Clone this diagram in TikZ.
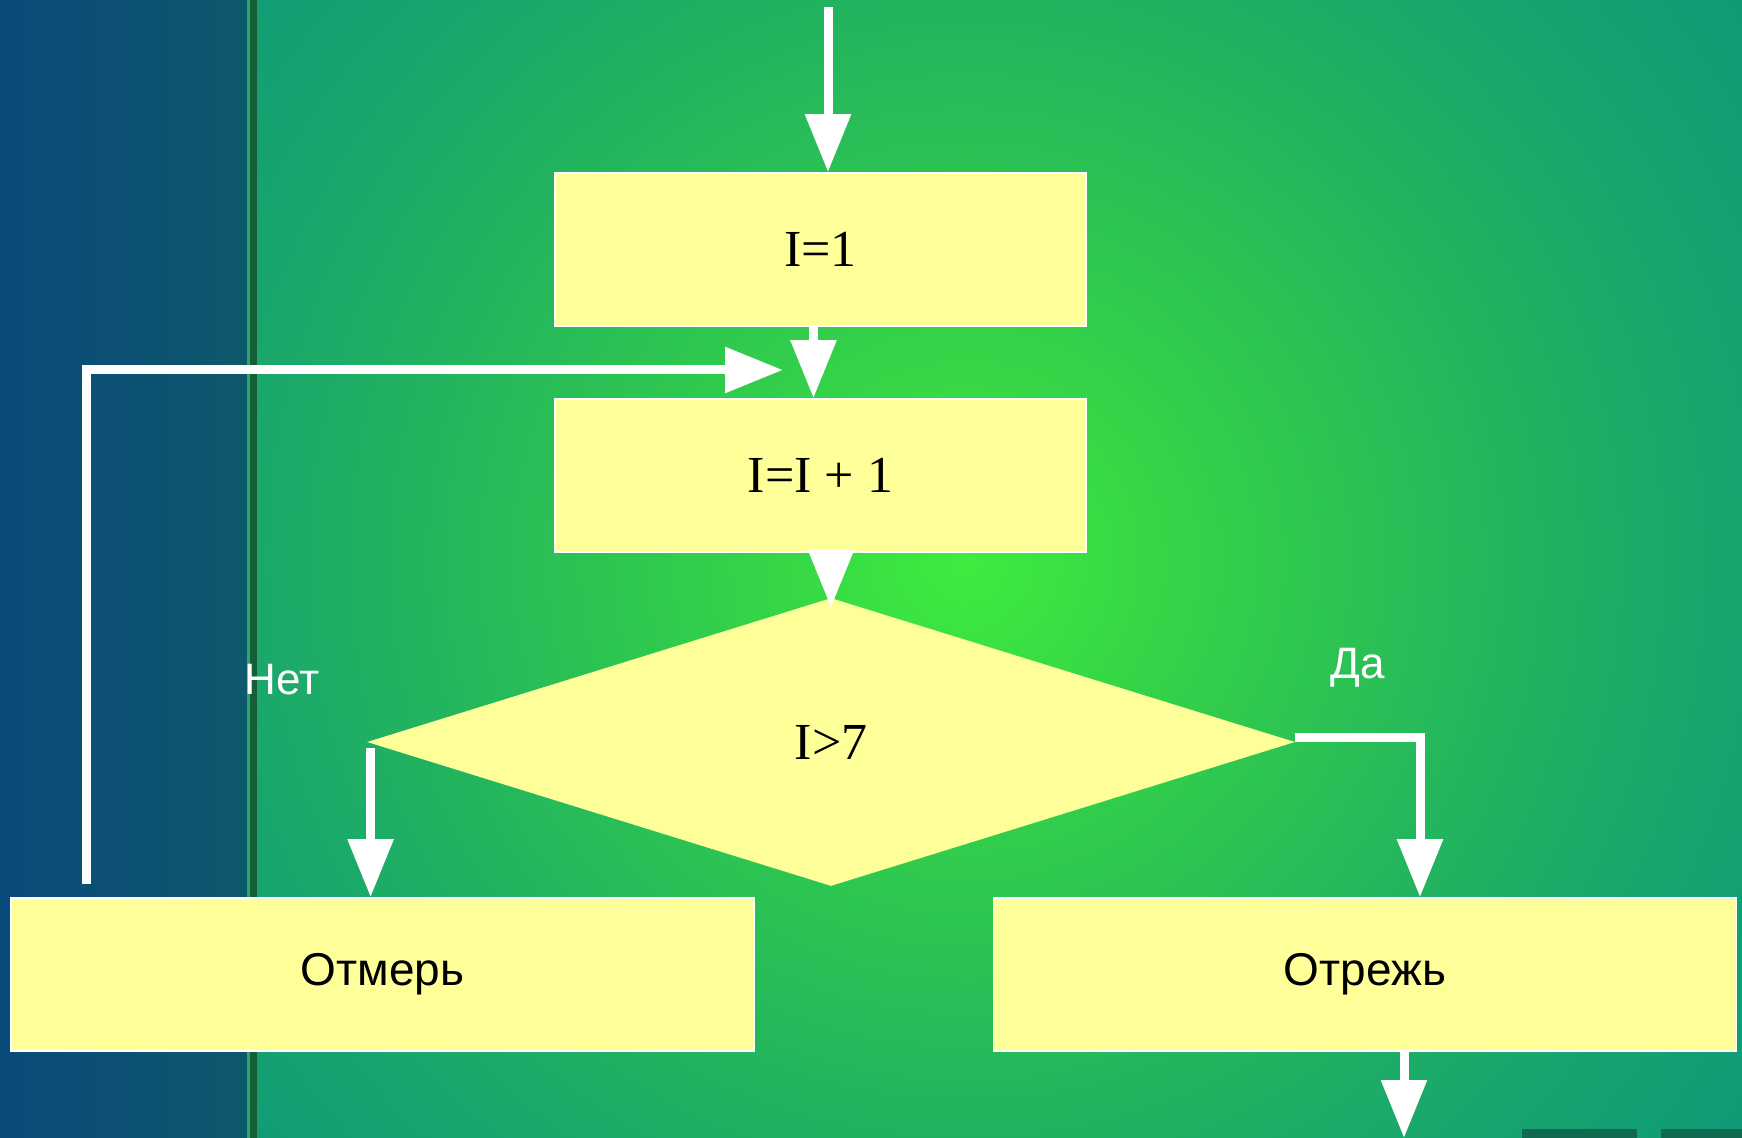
\documentclass[tikz,border=0pt]{standalone}
\usepackage{fontspec}
\setmainfont{Liberation Serif}
\newfontfamily\cyrsans{Liberation Sans}
\usetikzlibrary{arrows.meta,shapes.geometric,positioning}

\definecolor{boxyellow}{HTML}{FFFF99}
\definecolor{glowa}{RGB}{62,236,62}
\definecolor{glowb}{RGB}{51,207,74}
\definecolor{glowc}{RGB}{34,179,95}
\definecolor{glowd}{RGB}{25,166,109}
\definecolor{glowe}{RGB}{17,154,118}
\definecolor{glowk}{RGB}{16,150,120}
\definecolor{stripblue}{RGB}{10,74,122}
\definecolor{stripblueb}{RGB}{14,88,108}
\definecolor{stripline}{RGB}{40,170,110}
\definecolor{stripdark}{RGB}{21,94,56}
\definecolor{footdark}{RGB}{15,106,80}
\pgfdeclareradialshading{greenglow}{\pgfpoint{0bp}{0bp}}{%
  color(0bp)=(glowa); color(125bp)=(glowb); color(280bp)=(glowc);
  color(370bp)=(glowd); color(472bp)=(glowe); color(500bp)=(glowk)}

\begin{document}
\begin{tikzpicture}[x=0.5pt,y=-0.5pt,
  flowbox/.style={draw=white,line width=0.8pt,fill=boxyellow,inner sep=0pt,
    minimum width=265.5pt,minimum height=76.5pt},
  wide/.style={flowbox,minimum width=371.5pt},
  flowline/.style={white,line width=4.5pt,
    -{Triangle[length=29pt,width=22pt]}},
  mathtext/.style={font=\fontsize{26}{30}\selectfont},
  sanstext/.style={font=\cyrsans\fontsize{23}{27}\selectfont},
  branch/.style={text=white,font=\cyrsans\fontsize{22}{26}\selectfont}]

\useasboundingbox (0,0) rectangle (1742,1138);
\shade[left color=stripblue,right color=stripblueb] (0,0) rectangle (247,1138);
\fill[stripline] (247,0) rectangle (250,1138);
\fill[stripdark] (250,0) rectangle (257,1138);
\begin{scope}
  \clip (257,0) rectangle (1742,1138);
  \fill[glowk] (257,0) rectangle (1742,1138);
  \node[inner sep=0pt] (glow) at (965,560) {\pgfuseshading{greenglow}};
\end{scope}
\fill[footdark] (1522,1129) rectangle (1637,1138);
\fill[footdark] (1661,1129) rectangle (1742,1138);

\node[flowbox,mathtext] (init) at (820.5,249.5) {I=1};
\node[flowbox,mathtext] (incr) at (820.5,475.5) {I=I + 1};
\node[draw=none,fill=boxyellow,shape=diamond,inner sep=0pt,
  minimum width=464pt,minimum height=144pt,mathtext] (cond) at (831,742) {I>7};
\node[wide,sanstext] (measure) at (382.5,974.5) {Отмерь};
\node[wide,sanstext] (cut) at (1365,974.5) {Отрежь};

\node[branch] (no) at (282,680) {Нет};
\node[branch] (yes) at (1358,668) {Да};

\coordinate (entry) at (828,7);
\coordinate (loopin) at (783,370);
\coordinate (exit) at (1404,1138);

\draw[flowline] (entry) -- (entry |- init.north);
\draw[flowline] ([xshift=-3.5pt]init.south) -- ([xshift=-3.5pt]incr.north);
\draw[flowline] (incr.south -| cond.north) -- ([yshift=-5pt]cond.north);
\draw[flowline] ([xshift=2pt,yshift=-3pt]cond.west) -- ([xshift=2pt]cond.west |- measure.north);
\draw[flowline] ([yshift=2pt]cond.east) -| ([xshift=27.5pt]cut.north);
\draw[flowline] ([xshift=19.5pt]cut.south) -- (exit);
\draw[flowline] ([xshift=38pt,yshift=6.5pt]measure.north west) |- (loopin);
\end{tikzpicture}
\end{document}
